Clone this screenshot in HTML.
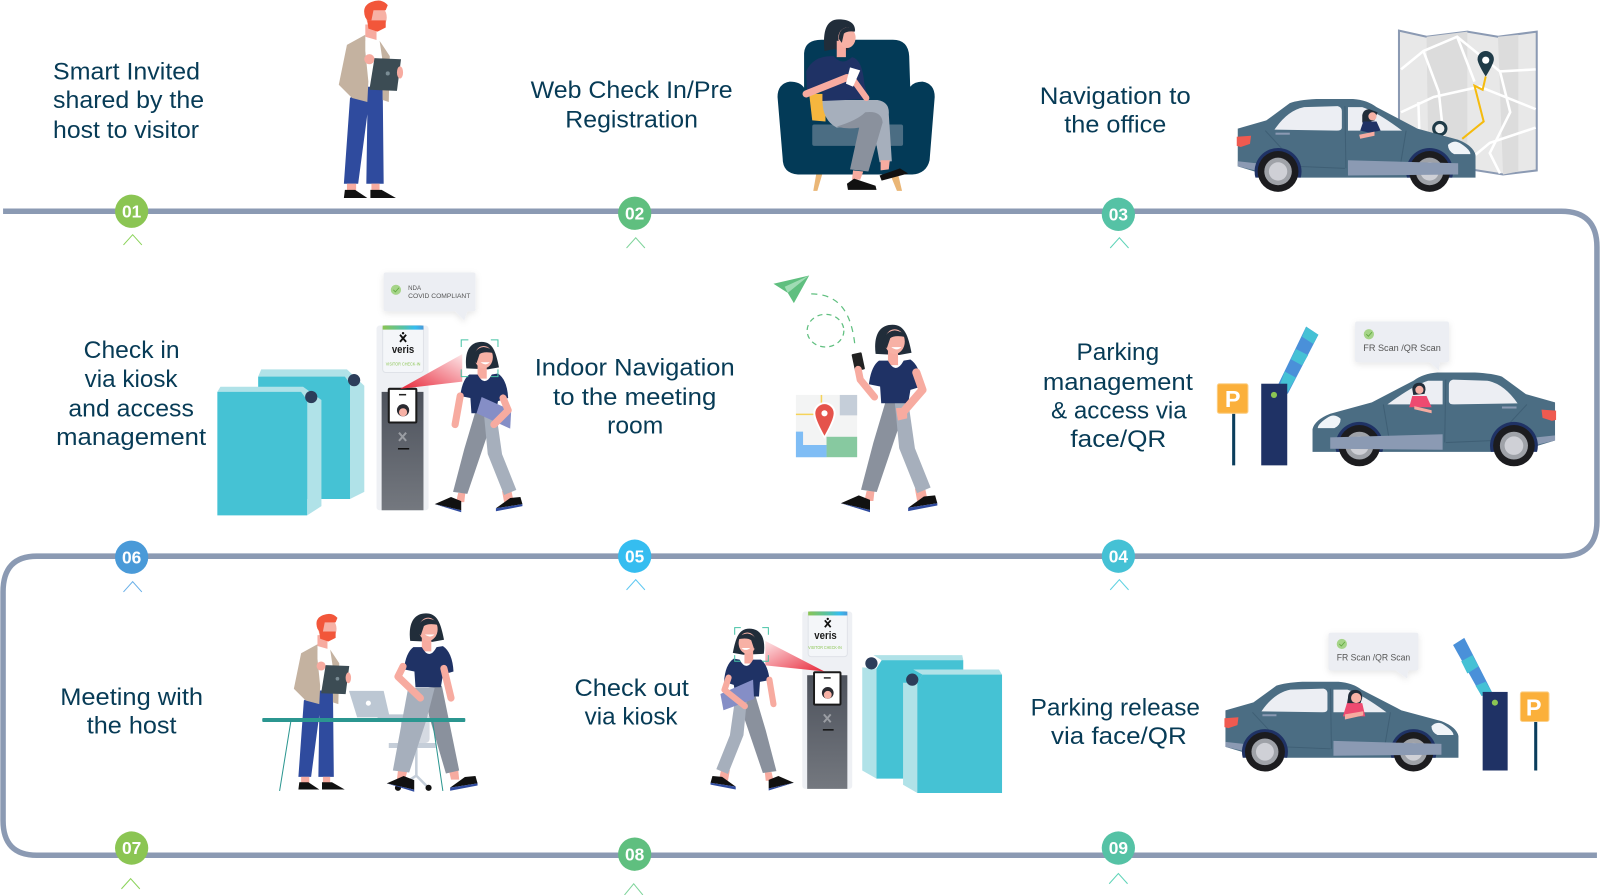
<!DOCTYPE html>
<html><head><meta charset="utf-8"><title>Visitor journey</title>
<style>
html,body{margin:0;padding:0;background:#fff}
svg{display:block;width:1600px;height:895px}
.t{font:24px "Liberation Sans",sans-serif;fill:#073b56}
.n{font:bold 17px "Liberation Sans",sans-serif;fill:#fff;text-anchor:middle}
.s{font:6px "Liberation Sans",sans-serif;fill:#555}
.f{font:9px "Liberation Sans",sans-serif;fill:#555}
.c{fill:none;stroke-width:1}
</style></head><body>
<svg xmlns="http://www.w3.org/2000/svg" viewBox="0 0 1568 877" preserveAspectRatio="none">
<defs>
<filter id="sh" x="-20%" y="-20%" width="140%" height="150%"><feDropShadow dx="0" dy="2" stdDeviation="3" flood-color="#000" flood-opacity=".1"/></filter>
<linearGradient id="bm" x1="0" x2="1" y1="1" y2="0"><stop offset="0" stop-color="#e8283a"/><stop offset="1" stop-color="#fde6e8"/></linearGradient>
<linearGradient id="bm2" x1="1" x2="0" y1="1" y2="0"><stop offset="0" stop-color="#e8283a"/><stop offset="1" stop-color="#fde6e8"/></linearGradient>
<linearGradient id="ks" x1="0" x2="0" y1="0" y2="1"><stop offset="0" stop-color="#4d525c"/><stop offset="1" stop-color="#74787f"/></linearGradient>
<linearGradient id="st" x1="0" x2="1" y1="0" y2="0"><stop offset="0" stop-color="#8bc553"/><stop offset=".5" stop-color="#55c2a5"/><stop offset=".8" stop-color="#35bdf0"/><stop offset="1" stop-color="#4a9ad8"/></linearGradient>
<clipPath id="ab"><rect x="1200" y="100" width="260" height="74"/></clipPath>

<!-- man -->
<g id="man">
<path d="M343,96 L362,80 L375,80 L376,180 L359,180 L360,112 L351,180 L337,180 Z" fill="#2f4b9e"/>
<rect x="340" y="180" width="9" height="7" fill="#f7aba0"/><rect x="364" y="180" width="8" height="7" fill="#f7aba0"/>
<path d="M337,194 L338,186 L348,186 L360,194 Z M363,194 L363,186 L374,186 L388,194 Z" fill="#111"/>
<rect x="358" y="24" width="11" height="16" fill="#f7aba0"/>
<path d="M358,36 L372,40 L375,85 L360,85 Z" fill="#fff"/>
<path d="M358,34 L340,44 L332,83 L345,96 L360,100 L361,80 L358,50 Z" fill="#c4b2a0"/>
<path d="M372,40 L382,55 L381,100 L375,98 L375,60 Z" fill="#c4b2a0"/>
<ellipse cx="369" cy="17" rx="10" ry="12" fill="#f7b1a5"/>
<path d="M360,20 L378,20 L378,27 L370,31 L361,28 Z" fill="#f2563a"/>
<path d="M358,17 Q354,6 364,2 Q374,-2 380,5 L378,10 L366,10 L364,20 L360,20 Z" fill="#f2563a"/>
<circle cx="362" cy="58" r="5" fill="#f7aba0"/>
<path d="M367,57 L393,58 L389,89 L362,88 Z" fill="#3c4c54"/>
<circle cx="380" cy="72" r="2" fill="#7a8c94"/>
<ellipse cx="392" cy="71" rx="3" ry="6" fill="#f7aba0"/>
</g>

<!-- walking woman parts -->
<g id="wl">
<path d="M449,483 L456,483 L455,492 L447,492 Z M492,481 L501,480 L503,490 L494,492 Z" fill="#f7aba0"/>
<path d="M466,403 L480,403 L478,425 L458,484 L444,482 L455,440 Z" fill="#8a919d"/>
<path d="M474,403 L486,403 L492,445 L506,480 L494,485 L478,445 Z" fill="#a6afbc"/>
</g>
<g id="ws">
<path d="M426,494 L442,487 L452,491 L452,500 Z" fill="#111"/>
<path d="M426,494 L452,500 L452,502 Z" fill="#2f4b9e"/>
<path d="M486,498 L500,488 L510,487 L512,494 Z" fill="#111"/>
<path d="M486,498 L512,494 L512,496 L486,501 Z" fill="#2f4b9e"/>
</g>
<g id="wt">
<path d="M457,361 C455,345 460,335 472,335 C483,335 486,345 489,360 L478,362 Z" fill="#212d3a"/>
<rect x="468" y="355" width="9" height="16" fill="#f7aba0"/>
<path d="M460,367 L468,367 Q475,380 482,367 L488,366 Q497,372 498,390 L488,393 L486,405 L462,405 L461,390 L451,388 Q453,372 460,367 Z" fill="#1f3265"/>
<ellipse cx="474" cy="350" rx="9" ry="11" fill="#f7b1a5"/>
<path d="M463,352 Q465,341 474,340 Q482,341 484,346 Q474,344 470,347 L467,356 Z" fill="#212d3a"/>
<path d="M471,355 Q476,359 480,355 Z" fill="#fff"/>
</g>
<g id="wo"><use href="#wl"/><use href="#ws"/><use href="#wt"/></g>

<!-- kiosk base -->
<g id="ki">
<rect x="369" y="319" width="51" height="181" rx="3" fill="#eef0f4"/>
<rect x="375" y="319" width="40" height="46" rx="3" fill="#f4f6f9" stroke="#dfe2e8"/>
<rect x="375" y="319" width="40" height="4" fill="url(#st)"/>
<path d="M392,328 L398,335 M398,328 L392,335" stroke="#111" stroke-width="1.8"/><circle cx="395" cy="326.5" r="1.2" fill="#111"/>
<rect x="374" y="384" width="41" height="116" fill="url(#ks)"/>
<rect x="381" y="381" width="27" height="33" rx="1" fill="#fff" stroke="#1a1a1a" stroke-width="2"/>
<circle cx="395" cy="402" r="6" fill="#2a2a30"/><circle cx="395" cy="404" r="4" fill="#f7b1a5"/>
<rect x="391" y="386" width="7" height="1.5" fill="#222"/>
<path d="M391,424 L398,432 M398,424 L391,432" stroke="#9a9da3" stroke-width="2"/>
<rect x="390" y="439" width="11" height="1.5" fill="#111"/>
</g>

<!-- car -->
<g id="car">
<path d="M1213,160 L1213,126 L1241,118 L1264,101 Q1272,98 1290,97 L1326,97 Q1340,98 1349,105 L1389,126 L1429,137 Q1444,143 1446,152 L1446,174 L1274,174 L1236,170 L1213,163 Z" fill="#4b6d83"/>
<path d="M1249,127 Q1262,108 1278,105 L1311,104 Q1315,105 1315,109 L1315,125 Q1315,128 1310,128 Z" fill="#eceef3"/>
<path d="M1321,105 L1335,105 Q1350,110 1374,128 L1321,128 Z" fill="#eceef3"/>
<path d="M1318,104 L1319,165 M1240,128 L1272,163 L1318,165 M1378,128 L1371,170" stroke="#3f5f75" fill="none" stroke-width="1"/>
<path d="M1212,134 L1226,133 L1225,141 L1216,144 L1212,143 Z" fill="#ef5a50"/>
<path d="M1419,142 Q1425,136 1432,141 Q1441,147 1441,151 L1425,151 Q1419,148 1419,142 Z" fill="#f0f4f8"/>
<path d="M1213,158 L1231,160 L1230,167 L1213,163 Z" fill="#8b9ab3"/>
<rect x="1250" y="130" width="14" height="2" fill="#8b9ab3"/>
<g clip-path="url(#ab)"><circle cx="1252.5" cy="168" r="23" fill="#1f3265"/><circle cx="1401" cy="168" r="23" fill="#1f3265"/></g>
<circle cx="1252.5" cy="168" r="20" fill="#1c1c1f"/><circle cx="1252.5" cy="168" r="13.5" fill="#9fa2a8"/><circle cx="1252.5" cy="168" r="9" fill="#cfd0d6"/>
<circle cx="1401" cy="168" r="20" fill="#1c1c1f"/><circle cx="1401" cy="168" r="13.5" fill="#9fa2a8"/><circle cx="1401" cy="168" r="9" fill="#cfd0d6"/>
<path d="M1321,157 L1429,160 L1429,171 L1321,172 Z" fill="#8b9ab3"/>
</g>
</defs>

<!-- timeline -->
<path d="M3,207 H1530 Q1565,207 1565,242 V511 Q1565,545 1530,545 H36 Q3,545 3,580 V804 Q3,838 36,838 H1565" fill="none" stroke="#8b9ab3" stroke-width="5.4"/>

<!-- row 1 -->
<use href="#man"/>

<!-- map -->
<path d="M1371,30 L1398,36 L1438,31 L1468,36 L1506,31 L1506,167 L1473,171 L1435,165 L1400,170 L1371,165 Z" fill="#e8e8e8" stroke="#8b9ab3" stroke-width="2"/>
<path d="M1398,36 L1438,31 L1438,165 L1400,170 Z" fill="#dcdcdc"/><path d="M1468,36 L1488,34 L1488,168 L1473,171 Z" fill="#dcdcdc"/>
<path d="M1373,68 L1395,50 L1428,36 L1470,70 L1505,68 M1373,110 L1405,95 L1450,85 L1505,107 M1395,50 L1410,90 L1418,165 M1428,36 L1445,80 M1470,70 L1480,110 L1460,150 L1470,170 M1505,125 L1460,140 L1430,165 M1390,100 L1392,160" fill="none" stroke="#fff" stroke-width="2.5"/>
<polyline points="1456,75 1453,88 1445,84 1454,119 1433,136" fill="none" stroke="#f5bb0e" stroke-width="2"/>
<path d="M1456,75 Q1448,62 1448,58 A8,8 0 1 1 1464,58 Q1464,62 1456,75 Z" fill="#1f3b48"/><circle cx="1456" cy="59" r="3.5" fill="#fff"/>
<circle cx="1411" cy="126" r="6" fill="#eee" stroke="#1f3b48" stroke-width="3"/>

<use href="#car"/>
<path d="M1335,113 Q1336,107 1342,107 L1350,110 L1347,118 L1340,120 L1335,120 Z" fill="#212d3a"/><circle cx="1345" cy="114" r="4" fill="#f7b1a5"/>
<path d="M1333,128 L1336,119 L1349,119 L1353,128 L1342,130 Z" fill="#1f3265"/><path d="M1332,132 L1347,129 L1347,133 L1333,136 Z" fill="#f7aba0"/>

<!-- chair with woman -->
<path d="M800,170 L806,170 L801,187 L797,187 Z M872,170 L880,170 L884,187 L879,187 Z" fill="#eab676"/>
<path d="M788,82 L788,52 Q789,39 805,39 L875,39 Q890,39 891,55 L892,85 Q896,80 904,80 Q916,82 916,95 L911,157 Q908,170 894,171 L782,171 Q767,170 767,155 L762,95 Q762,82 774,80 Q784,80 788,86 Z" fill="#033a57"/>
<rect x="796" y="122" width="89" height="21" rx="2" fill="#4b6d83"/>
<path d="M793,92 L809,92 L809,119 L796,118 Z" fill="#f5b63e"/>
<path d="M806,98 L860,98 Q872,100 871,112 L874,158 L862,159 L855,120 L820,125 Q806,118 806,98 Z" fill="#a6afbc"/>
<path d="M820,124 Q840,118 848,110 Q864,108 865,120 L851,168 L833,166 L842,125 Q830,127 820,124 Z" fill="#8a919d"/>
<path d="M836,167 L846,168 L843,176 L835,176 Z M863,157 L872,157 L871,166 L863,167 Z" fill="#f7aba0"/>
<path d="M830,180 L837,175 L858,182 L859,186 L831,186 Z M862,172 L882,165 L890,170 L864,177 Z" fill="#111"/>
<path d="M808,50 C806,30 810,19 822,19 C834,19 838,24 838,30 L830,36 L832,48 L826,52 L818,48 Z" fill="#212d3a"/>
<rect x="820" y="40" width="9" height="16" fill="#f7aba0"/>
<path d="M790,70 Q797,54 817,55 Q825,65 835,56 Q845,58 847,82 L851,97 L806,99 L806,88 L791,92 Z" fill="#1f3265"/>
<ellipse cx="830" cy="37" rx="8.5" ry="10" fill="#f7b1a5"/><path d="M822,38 Q822,28 830,27 Q836,27 838,31 Q830,30 827,33 L825,42 Z" fill="#212d3a"/>
<path d="M790,92 L830,76" stroke="#f7aba0" stroke-width="7" stroke-linecap="round"/><path d="M836,78 L849,96" stroke="#f7aba0" stroke-width="6" stroke-linecap="round"/>
<path d="M833,66 L843,69 L836,85 L829,82 Z" fill="#fff"/>

<!-- row 2: gates -->
<path d="M253,369 L256,362 L340,362 L357,378 L357,482 L343,489 L343,376 Z" fill="#b0e2e8"/>
<path d="M253,369 H338 L343,376 V489 H253 Z" fill="#45c2d4"/><circle cx="347" cy="372.5" r="6" fill="#2c3d5a"/>
<path d="M213,384 L216,379 L297,379 L315,392 L315,496 L301,505 L301,392 Z" fill="#b0e2e8"/>
<path d="M213,384 H295 L301,392 V505 H213 Z" fill="#45c2d4"/><circle cx="305" cy="389" r="6" fill="#2c3d5a"/>

<use href="#ki"/>
<text x="384" y="346" font-family="Liberation Sans" font-size="11" font-weight="bold" fill="#1a1a1a" textLength="22" lengthAdjust="spacingAndGlyphs">veris</text>
<text x="378" y="358" font-family="Liberation Sans" font-size="4.5" fill="#8bc553" textLength="34" lengthAdjust="spacingAndGlyphs">VISITOR CHECK-IN</text>
<path d="M392,381 L453,347 L453,374 Z" fill="url(#bm)"/>
<use href="#wo"/>
<path d="M451,388 L446,416" stroke="#f7aba0" stroke-width="7" stroke-linecap="round"/>
<path d="M472,389 L501,402 L500,420 L467,405 Z" fill="#858ec6"/>
<path d="M493,390 L498,402 L484,416" fill="none" stroke="#f7aba0" stroke-width="7" stroke-linecap="round" stroke-linejoin="round"/>
<path d="M452,340 V333 H459 M481,333 H488 V340 M452,362 V369 H459 M481,369 H488 V362" fill="none" stroke="#45c2a5" stroke-width="1"/>
<g filter="url(#sh)"><path d="M378,267 H464 Q466,267 466,269 V303 Q466,305 464,305 L458,305 L455,314 L446,305 H378 Q376,305 376,303 V269 Q376,267 378,267 Z" fill="#eceef3"/></g>
<circle cx="388" cy="284" r="5" fill="#a5d488"/><path d="M385.5,284 L387.5,286 L391,282" fill="none" stroke="#5fa83d" stroke-width=".8"/>
<text class="s" x="400" y="284">NDA</text>
<text class="s" x="400" y="292" textLength="61" lengthAdjust="spacingAndGlyphs">COVID COMPLIANT</text>

<!-- nav -->
<path d="M758,278 L793,270 L778,297 L772,287 Z" fill="#5fbf7f"/><path d="M772,287 L793,270 L769,281 Z" fill="#9fdcb4"/>
<path d="M795,288 C825,288 835,310 838,340" fill="none" stroke="#5fbf7f" stroke-width="1.2" stroke-dasharray="6 5"/>
<ellipse cx="809" cy="324" rx="18" ry="16" fill="none" stroke="#5fbf7f" stroke-width="1.2" stroke-dasharray="5 4"/>
<rect x="780" y="387" width="60" height="61" fill="#f3f4f4"/>
<rect x="823" y="387" width="17" height="20" fill="#c5ced9"/>
<rect x="810" y="428" width="30" height="20" fill="#87c9a0"/>
<path d="M780,423 H787 V436 H810 V448 H780 Z" fill="#7fbdf5"/>
<path d="M780,406 H808" stroke="#f5d35a" stroke-width="1.5"/><path d="M805,387 V400" stroke="#f5d35a" stroke-width="1.5"/>
<path d="M808,430 Q797,412 797,405 A11,11 0 1 1 819,405 Q819,412 808,430 Z" fill="#fff"/>
<path d="M808,427 Q799,411 799,405 A9,9 0 1 1 817,405 Q817,411 808,427 Z" fill="#e5534b"/><circle cx="808" cy="405" r="3" fill="#fff"/>
<use href="#wo" transform="translate(355.4,-50.3) scale(1.1)"/>
<rect x="836" y="346" width="10" height="17" rx="1" fill="#222" transform="rotate(-12 841 354)"/>
<path d="M841,362 L843,372 L857,389" fill="none" stroke="#f7aba0" stroke-width="7" stroke-linecap="round" stroke-linejoin="round"/>
<path d="M898,365 L904,382 L884,405" fill="none" stroke="#f7aba0" stroke-width="8" stroke-linecap="round" stroke-linejoin="round"/>
<path d="M878,400 Q890,398 889,410 L880,412 Z" fill="#f7aba0"/>

<!-- parking -->
<path d="M1252,378 L1280,320 L1292,328 L1262,386 Z" fill="#4a90d9"/>
<path d="M1259,364 L1270,370 L1262,384 L1254,378 Z M1270,342 L1282,348 L1276,358 L1265,352 Z M1280,320 L1292,328 L1287,337 L1276,330 Z" fill="#45c1d5"/>
<rect x="1236" y="376" width="25.5" height="80" fill="#1f3265"/><circle cx="1248.5" cy="387" r="3" fill="#8bc553"/>
<rect x="1207.5" y="405" width="3" height="51" fill="#0a3d5c"/>
<rect x="1193" y="376" width="30" height="29" rx="2" fill="#fbb03b" stroke="#fbd08a"/>
<text x="1208" y="399" text-anchor="middle" font-family="Liberation Sans" font-weight="bold" font-size="23" fill="#fff">P</text>
<use href="#car" transform="translate(2761.2,267) scale(-1.02,1.01)"/>
<path d="M1384,381 Q1385,375 1391,375 Q1397,375 1397,382 L1396,386 L1385,387 Z" fill="#212d3a"/><circle cx="1391" cy="382" r="4" fill="#f7b1a5"/>
<path d="M1381,399 L1384,388 L1398,388 L1403,399 Z" fill="#ee4a70"/><path d="M1386,398 L1403,402 L1403,405 L1386,401 Z" fill="#f7aba0"/>
<g filter="url(#sh)"><path d="M1330,315 H1418 Q1420,315 1420,317 V353 Q1420,355 1418,355 L1411,355 L1410,363 L1401,355 H1330 Q1328,355 1328,353 V317 Q1328,315 1330,315 Z" fill="#eceef3"/></g>
<circle cx="1341.5" cy="327.5" r="5" fill="#a5d488"/><path d="M1339,327.5 L1341,329.5 L1344.5,325.5" fill="none" stroke="#5fa83d" stroke-width=".8"/>
<text class="f" x="1336" y="344" textLength="76" lengthAdjust="spacingAndGlyphs">FR Scan /QR Scan</text>

<!-- row 3 meeting -->
<use href="#man" transform="translate(-7.5,601) scale(.89)"/>
<path d="M381,728 H427 V733 H381 Z" fill="#c5ced9"/><path d="M408,733 V760 L390,772 M408,760 L420,772" stroke="#c5ced9" stroke-width="2.5" fill="none"/>
<circle cx="390" cy="772" r="3" fill="#111"/><circle cx="420" cy="772" r="3" fill="#111"/>
<rect x="393" y="700" width="28" height="28" rx="4" fill="#d5dae2"/>
<path d="M342,677 L376,677 L382,703 L350,703 Z" fill="#bcc7d3"/><rect x="370" y="700" width="33" height="4" fill="#bcc7d3"/><circle cx="361" cy="689" r="2.5" fill="#fff"/>
<path d="M390,755 L399,756 L397,764 L389,764 Z M440,755 L449,754 L450,764 L442,764 Z" fill="#f7aba0"/>
<path d="M420,674 L433,672 L450,755 L437,758 L420,700 Z" fill="#8a919d"/>
<path d="M400,674 L426,674 L418,705 L401,757 L385,755 Z" fill="#a6afbc"/>
<use href="#ws" transform="translate(-61.9,256.3) scale(1.035)"/>
<use href="#wt" transform="translate(-71,254.3) scale(1.035)"/>
<path d="M395,653 L390,663 L412,684" fill="none" stroke="#f7aba0" stroke-width="7" stroke-linecap="round" stroke-linejoin="round"/>
<path d="M435,655 L442,684" stroke="#f7aba0" stroke-width="7" stroke-linecap="round"/>
<rect x="257" y="703.5" width="199" height="4" rx="1" fill="#2b9690"/>
<path d="M285,707 L274,775 M424,707 L434,775" stroke="#2b9690" stroke-width="1" fill="none"/>

<!-- checkout -->
<use href="#ki" transform="translate(432,293) scale(.96)"/>
<text x="798" y="626" font-family="Liberation Sans" font-size="11" font-weight="bold" fill="#1a1a1a" textLength="22" lengthAdjust="spacingAndGlyphs">veris</text>
<text x="792" y="636" font-family="Liberation Sans" font-size="4.5" fill="#8bc553" textLength="33" lengthAdjust="spacingAndGlyphs">VISITOR CHECK-IN</text>
<path d="M808,658 L750,628 L750,652 Z" fill="url(#bm2)"/>
<use href="#wo" transform="translate(1182.7,297.7) scale(-.95,.95)"/>
<path d="M754,666 L758,690" stroke="#f7aba0" stroke-width="6" stroke-linecap="round"/>
<path d="M738,666 L739,685 L709,696 L706,680 Z" fill="#858ec6"/>
<path d="M714,664 L710,676 L730,692" fill="none" stroke="#f7aba0" stroke-width="6" stroke-linecap="round" stroke-linejoin="round"/>
<path d="M720,622 V615 H726 M747,615 H753 V622 M720,642 V648 H726 M747,648 H753 V642" fill="none" stroke="#45c2a5" stroke-width="1"/>

<path d="M859,655 L864,647 L856,642 L943,642 L944,647 L859,763 L845,755 L845,654 Z" fill="#b0e2e8"/>
<path d="M864,647 H944 V763 H859 V655 Z" fill="#45c2d4"/><circle cx="854" cy="650" r="6" fill="#2c3d5a"/>
<path d="M899,669 L904,661 L895,656 L979,656 L982,661 L899,777 L885,769 L885,669 Z" fill="#b0e2e8"/>
<path d="M904,661 H982 V777 H899 V669 Z" fill="#45c2d4"/><circle cx="894" cy="666" r="6" fill="#2c3d5a"/>

<!-- release -->
<use href="#car" transform="translate(12.2,574.2) scale(.98,.967)"/>
<path d="M1321,684 Q1321,676 1328,676 Q1335,676 1335,684 L1333,690 L1320,690 Z" fill="#212d3a"/><circle cx="1329" cy="684" r="5" fill="#f7b1a5"/>
<path d="M1316,702 L1320,689 L1335,689 L1338,702 Z" fill="#ee4a70"/><path d="M1318,700 L1336,697 L1336,701 L1318,705 Z" fill="#f7aba0"/>
<g filter="url(#sh)"><path d="M1304,620 H1388 Q1390,620 1390,622 V655 Q1390,657 1388,657 L1380,657 L1379,665 L1368,657 H1304 Q1302,657 1302,655 V622 Q1302,620 1304,620 Z" fill="#eceef3"/></g>
<circle cx="1315" cy="631" r="5" fill="#a5d488"/><path d="M1312.5,631 L1314.5,633 L1318,629" fill="none" stroke="#5fa83d" stroke-width=".8"/>
<text class="f" x="1310" y="647" textLength="72" lengthAdjust="spacingAndGlyphs">FR Scan /QR Scan</text>
<path d="M1424,632 L1435,625 L1462,678 L1452,682 Z" fill="#4a90d9"/>
<path d="M1432,648 L1443,642 L1449,653 L1438,660 Z M1446,672 L1456,668 L1462,678 L1452,682 Z" fill="#45c1d5"/>
<rect x="1453" y="678" width="24.5" height="77" fill="#1f3265"/><circle cx="1465" cy="688.5" r="3" fill="#8bc553"/>
<rect x="1503.5" y="707" width="3" height="48" fill="#0a3d5c"/>
<rect x="1490" y="678" width="28" height="29" rx="2" fill="#fbb03b" stroke="#fbd08a"/>
<text x="1503" y="701" text-anchor="middle" font-family="Liberation Sans" font-weight="bold" font-size="23" fill="#fff">P</text>

<!-- labels -->
<g>
<text class="t" x="52" y="78" textLength="144" lengthAdjust="spacingAndGlyphs">Smart Invited</text>
<text class="t" x="52" y="106" textLength="148" lengthAdjust="spacingAndGlyphs">shared by the</text>
<text class="t" x="52" y="135" textLength="143" lengthAdjust="spacingAndGlyphs">host to visitor</text>
<text class="t" x="520" y="96" textLength="198" lengthAdjust="spacingAndGlyphs">Web Check In/Pre</text>
<text class="t" x="554" y="125" textLength="130" lengthAdjust="spacingAndGlyphs">Registration</text>
<text class="t" x="1019" y="102" textLength="148" lengthAdjust="spacingAndGlyphs">Navigation to</text>
<text class="t" x="1043" y="130" textLength="100" lengthAdjust="spacingAndGlyphs">the office</text>
<text class="t" x="82" y="351" textLength="94" lengthAdjust="spacingAndGlyphs">Check in</text>
<text class="t" x="83" y="379" textLength="91" lengthAdjust="spacingAndGlyphs">via kiosk</text>
<text class="t" x="67" y="408" textLength="123" lengthAdjust="spacingAndGlyphs">and access</text>
<text class="t" x="55" y="436" textLength="147" lengthAdjust="spacingAndGlyphs">management</text>
<text class="t" x="524" y="368" textLength="196" lengthAdjust="spacingAndGlyphs">Indoor Navigation</text>
<text class="t" x="542" y="397" textLength="160" lengthAdjust="spacingAndGlyphs">to the meeting</text>
<text class="t" x="595" y="425" textLength="55" lengthAdjust="spacingAndGlyphs">room</text>
<text class="t" x="1055" y="353" textLength="81" lengthAdjust="spacingAndGlyphs">Parking</text>
<text class="t" x="1022" y="382" textLength="147" lengthAdjust="spacingAndGlyphs">management</text>
<text class="t" x="1030" y="410" textLength="133" lengthAdjust="spacingAndGlyphs">&amp; access via</text>
<text class="t" x="1049" y="438" textLength="94" lengthAdjust="spacingAndGlyphs">face/QR</text>
<text class="t" x="59" y="691" textLength="140" lengthAdjust="spacingAndGlyphs">Meeting with</text>
<text class="t" x="85" y="719" textLength="88" lengthAdjust="spacingAndGlyphs">the host</text>
<text class="t" x="563" y="682" textLength="112" lengthAdjust="spacingAndGlyphs">Check out</text>
<text class="t" x="573" y="710" textLength="91" lengthAdjust="spacingAndGlyphs">via kiosk</text>
<text class="t" x="1010" y="701" textLength="166" lengthAdjust="spacingAndGlyphs">Parking release</text>
<text class="t" x="1030" y="729" textLength="133" lengthAdjust="spacingAndGlyphs">via face/QR</text>
</g>

<!-- markers -->
<circle cx="129" cy="207" r="16.3" fill="#8bc553"/><text class="n" x="129" y="213">01</text>
<circle cx="622" cy="209" r="16.3" fill="#5fbf7f"/><text class="n" x="622" y="215">02</text>
<circle cx="1096" cy="210" r="16.3" fill="#55c2a5"/><text class="n" x="1096" y="216">03</text>
<circle cx="1096" cy="545" r="16.3" fill="#45c1d5"/><text class="n" x="1096" y="551">04</text>
<circle cx="622" cy="545" r="16.3" fill="#35bdf0"/><text class="n" x="622" y="551">05</text>
<circle cx="129" cy="546" r="16.3" fill="#4a9ad8"/><text class="n" x="129" y="552">06</text>
<circle cx="129" cy="831" r="16.3" fill="#8bc553"/><text class="n" x="129" y="837">07</text>
<circle cx="622" cy="837" r="16.3" fill="#5fbf7f"/><text class="n" x="622" y="843">08</text>
<circle cx="1096" cy="831" r="16.3" fill="#55c2a5"/><text class="n" x="1096" y="837">09</text>

<polyline class="c" stroke="#8bd35a" points="121,240 130,230 139,240"/>
<polyline class="c" stroke="#7fd49b" points="614,243 623,233 632,243"/>
<polyline class="c" stroke="#5fd4b8" points="1088,243 1097,233 1106,243"/>
<polyline class="c" stroke="#5fd2e2" points="1088,578 1097,568 1106,578"/>
<polyline class="c" stroke="#5fc8f2" points="614,578 623,568 632,578"/>
<polyline class="c" stroke="#6ab0e8" points="121,580 130,570 139,580"/>
<polyline class="c" stroke="#8bd35a" points="119,871 128,861 137,871"/>
<polyline class="c" stroke="#7fd49b" points="612,877 621,866 630,877"/>
<polyline class="c" stroke="#5fd4b8" points="1087,866 1096,856 1105,866"/>
</svg>
</body></html>
